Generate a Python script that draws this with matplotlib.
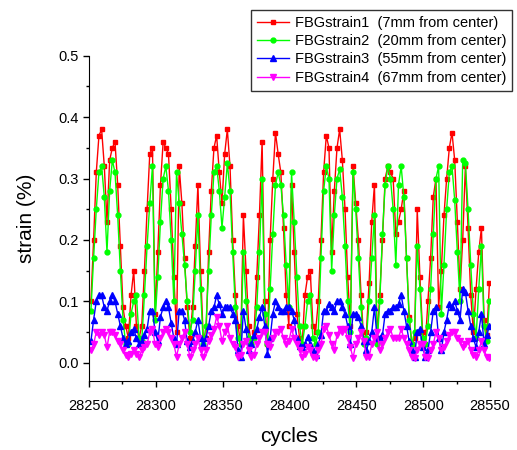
import numpy as np
import matplotlib
matplotlib.use('Agg')
import matplotlib.pyplot as plt
from matplotlib.ticker import MultipleLocator

plt.rcParams['font.family'] = ['Liberation Sans', 'DejaVu Sans']

# cycle number of each sample (one reading every 2 cycles)
cycles = np.arange(28251.5, 28550, 2)

# strain values, in %
strain1 = [0.10, 0.20, 0.31, 0.37, 0.38, 0.32, 0.23, 0.33, 0.35, 0.36, 0.29, 0.19, 0.09, 0.06, 0.04, 0.11, 0.15, 0.06, 0.04, 0.06, 0.15, 0.25,
           0.34, 0.35, 0.08, 0.18, 0.29, 0.36, 0.35, 0.34, 0.25, 0.14, 0.05, 0.32, 0.26, 0.17, 0.09, 0.04, 0.09, 0.19, 0.29, 0.15, 0.04,
           0.04, 0.18, 0.28, 0.35, 0.37, 0.31, 0.26, 0.34, 0.38, 0.32, 0.20, 0.11, 0.06, 0.03, 0.24, 0.15, 0.06, 0.03, 0.05, 0.14, 0.24, 0.36,
           0.10, 0.03, 0.20, 0.30, 0.375, 0.34, 0.31, 0.22, 0.11, 0.06, 0.29, 0.18, 0.08, 0.04, 0.03, 0.11, 0.14, 0.15, 0.06, 0.05, 0.10, 0.20,
           0.31, 0.37, 0.35, 0.18, 0.28, 0.35, 0.38, 0.33, 0.25, 0.14, 0.06, 0.32, 0.26, 0.20, 0.11, 0.035, 0.05, 0.13, 0.23, 0.29, 0.04,
           0.11, 0.20, 0.30, 0.32, 0.31, 0.30, 0.21, 0.23, 0.25, 0.28, 0.17, 0.075, 0.03, 0.04, 0.25, 0.14, 0.05, 0.03, 0.10, 0.17, 0.27, 0.30,
           0.09, 0.15, 0.24, 0.30, 0.35, 0.375, 0.33, 0.23, 0.12, 0.20, 0.32, 0.22, 0.11, 0.05, 0.12, 0.18, 0.22, 0.07, 0.045, 0.13]

strain2 = [0.085, 0.17, 0.25, 0.31, 0.32, 0.27, 0.18, 0.28, 0.33, 0.31, 0.24, 0.15, 0.07, 0.03, 0.03, 0.08, 0.10, 0.11, 0.04, 0.035, 0.11, 0.19,
           0.26, 0.32, 0.07, 0.14, 0.23, 0.30, 0.32, 0.28, 0.20, 0.10, 0.31, 0.26, 0.21, 0.16, 0.10, 0.05, 0.07, 0.15, 0.24, 0.12, 0.03,
           0.06, 0.15, 0.24, 0.31, 0.32, 0.28, 0.22, 0.27, 0.325, 0.28, 0.18, 0.09, 0.04, 0.03, 0.18, 0.10, 0.04, 0.03, 0.04, 0.09, 0.18, 0.30,
           0.08, 0.03, 0.12, 0.21, 0.29, 0.31, 0.29, 0.24, 0.16, 0.09, 0.31, 0.23, 0.14, 0.06, 0.03, 0.06, 0.10, 0.11, 0.04, 0.03, 0.05, 0.17,
           0.28, 0.32, 0.30, 0.15, 0.24, 0.30, 0.315, 0.27, 0.19, 0.10, 0.05, 0.31, 0.25, 0.17, 0.09, 0.03, 0.04, 0.10, 0.17, 0.24, 0.03,
           0.10, 0.21, 0.29, 0.32, 0.30, 0.25, 0.16, 0.29, 0.32, 0.27, 0.17, 0.07, 0.03, 0.05, 0.19, 0.12, 0.04, 0.03, 0.06, 0.12, 0.21, 0.30,
           0.32, 0.08, 0.16, 0.25, 0.31, 0.32, 0.265, 0.18, 0.10, 0.33, 0.325, 0.25, 0.16, 0.08, 0.04, 0.12, 0.19, 0.06, 0.035, 0.10]

strain3 = [0.035, 0.07, 0.10, 0.11, 0.11, 0.09, 0.085, 0.10, 0.11, 0.10, 0.08, 0.06, 0.04, 0.03, 0.035, 0.05, 0.055, 0.04, 0.03, 0.035, 0.045, 0.055,
           0.085, 0.085, 0.05, 0.035, 0.075, 0.09, 0.10, 0.09, 0.065, 0.04, 0.03, 0.085, 0.085, 0.07, 0.035, 0.025, 0.035, 0.05, 0.07, 0.04, 0.03,
           0.04, 0.06, 0.085, 0.09, 0.11, 0.095, 0.08, 0.09, 0.09, 0.09, 0.08, 0.07, 0.02, 0.01, 0.085, 0.055, 0.02, 0.03, 0.045, 0.055, 0.075, 0.09,
           0.06, 0.015, 0.04, 0.08, 0.10, 0.09, 0.085, 0.085, 0.09, 0.09, 0.085, 0.07, 0.04, 0.028, 0.025, 0.03, 0.042, 0.03, 0.02, 0.012, 0.03, 0.045,
           0.085, 0.085, 0.095, 0.09, 0.085, 0.10, 0.10, 0.09, 0.08, 0.06, 0.03, 0.08, 0.08, 0.075, 0.06, 0.035, 0.02, 0.035, 0.05, 0.09, 0.04,
           0.04, 0.045, 0.08, 0.085, 0.085, 0.09, 0.09, 0.095, 0.11, 0.085, 0.06, 0.035, 0.02, 0.01, 0.05, 0.055, 0.025, 0.01, 0.02, 0.05, 0.085, 0.09,
           0.04, 0.02, 0.05, 0.07, 0.095, 0.09, 0.10, 0.085, 0.07, 0.12, 0.115, 0.085, 0.06, 0.04, 0.025, 0.05, 0.08, 0.03, 0.045, 0.06]

strain4 = [0.02, 0.03, 0.05, 0.045, 0.05, 0.045, 0.025, 0.05, 0.05, 0.045, 0.035, 0.03, 0.02, 0.012, 0.01, 0.015, 0.02, 0.015, 0.01, 0.02, 0.025, 0.03,
           0.05, 0.055, 0.03, 0.025, 0.04, 0.05, 0.055, 0.05, 0.04, 0.03, 0.01, 0.03, 0.04, 0.05, 0.03, 0.01, 0.02, 0.03, 0.04, 0.02, 0.01,
           0.02, 0.035, 0.045, 0.055, 0.075, 0.06, 0.035, 0.05, 0.06, 0.04, 0.03, 0.025, 0.01, 0.012, 0.03, 0.035, 0.02, 0.01, 0.012, 0.03, 0.04, 0.05,
           0.05, 0.03, 0.025, 0.04, 0.05, 0.05, 0.055, 0.04, 0.03, 0.035, 0.055, 0.04, 0.03, 0.02, 0.01, 0.015, 0.025, 0.02, 0.01, 0.008, 0.02, 0.03,
           0.055, 0.06, 0.045, 0.03, 0.02, 0.045, 0.055, 0.05, 0.055, 0.04, 0.025, 0.008, 0.03, 0.04, 0.05, 0.035, 0.01, 0.01, 0.03, 0.04, 0.05,
           0.02, 0.03, 0.04, 0.05, 0.055, 0.04, 0.04, 0.04, 0.055, 0.04, 0.03, 0.02, 0.01, 0.008, 0.02, 0.03, 0.03, 0.01, 0.008, 0.02, 0.03, 0.05,
           0.04, 0.02, 0.025, 0.035, 0.045, 0.05, 0.05, 0.04, 0.035, 0.025, 0.03, 0.035, 0.02, 0.012, 0.01, 0.02, 0.035, 0.02, 0.01, 0.008]

labels = ['FBGstrain1  (7mm from center)', 'FBGstrain2  (20mm from center)',
          'FBGstrain3  (55mm from center)', 'FBGstrain4  (67mm from center)']


def main():
    fig = plt.figure(figsize=(5.17, 4.5), dpi=100)
    ax = fig.add_axes([0.172, 0.153, 0.776, 0.723])

    ax.plot(cycles, strain1, '-s', color='#ff0000', ms=3.5, lw=1, label=labels[0])
    ax.plot(cycles, strain2, '-o', color='#00ff00', ms=3.5, lw=1, label=labels[1])
    ax.plot(cycles, strain3, '-^', color='#0000ff', ms=4, lw=1, label=labels[2])
    ax.plot(cycles, strain4, '-v', color='#ff00ff', ms=4, lw=1, label=labels[3])

    ax.set_xlim(28250, 28550)
    ax.set_ylim(-0.03, 0.5)
    ax.xaxis.set_major_locator(MultipleLocator(50))
    ax.xaxis.set_minor_locator(MultipleLocator(25))
    ax.yaxis.set_major_locator(MultipleLocator(0.1))
    ax.yaxis.set_minor_locator(MultipleLocator(0.05))
    ax.yaxis.set_major_formatter(plt.FormatStrFormatter('%.1f'))

    # only left and bottom axis lines
    ax.spines['top'].set_visible(False)
    ax.spines['right'].set_visible(False)
    ax.tick_params(which='major', direction='out', length=4, width=1, labelsize=10.5)
    ax.tick_params(which='minor', direction='out', length=2.5, width=1)
    ax.tick_params(axis='x', which='major', pad=9)

    ax.set_xlabel('cycles', fontsize=15, labelpad=10)
    ax.set_ylabel('strain (%)', fontsize=15, labelpad=16)

    leg = fig.legend(loc='upper left', bbox_to_anchor=(0.4855, 0.978), fontsize=10.5,
                     frameon=True, fancybox=False, borderaxespad=0, handlelength=2.2,
                     labelspacing=0.3, borderpad=0.4, handletextpad=0.4)
    leg.get_frame().set_edgecolor('black')
    leg.get_frame().set_linewidth(1)

    fig.savefig('out.png', dpi=100)


if __name__ == "__main__":
    main()
